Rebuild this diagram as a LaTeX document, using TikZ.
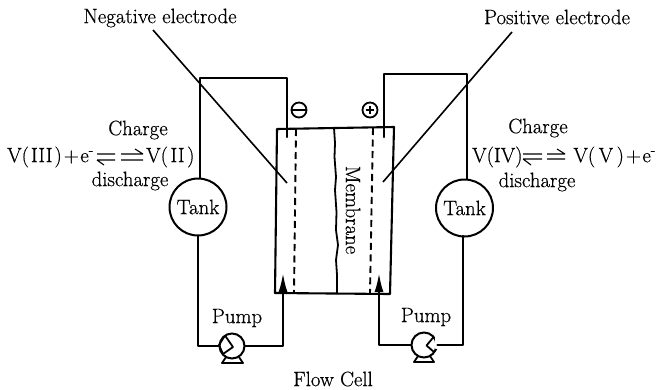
\documentclass[tikz,border=0pt]{standalone}
\usepackage{fontspec}
\setmainfont{Latin Modern Roman}[FakeBold=0.5]
\usetikzlibrary{arrows.meta}
\tikzset{
  pipe/.style={line width=2.2pt,line cap=round,line join=round},
  leader/.style={line width=1.6pt},
  cellwall/.style={line width=2.1pt,line join=round},
  electrode/.style={line width=1.9pt,dash pattern=on 7pt off 4.5pt},
  tankbox/.style={draw,circle,line width=2pt,minimum size=57pt,inner sep=0pt,font=\fontsize{20.8}{24}\selectfont},
  pumpbox/.style={draw,circle,line width=2pt,minimum size=25pt,inner sep=0pt},
  lab/.style={inner sep=0pt,font=\fontsize{20.8}{24}\selectfont},
  sign/.style={draw,circle,line width=1.8pt,minimum size=15pt,inner sep=0pt},
  flowtip/.style={-{Latex[length=19pt,width=9pt]}},
  eq/.style={line width=1.1pt},
}
\begin{document}
\begin{tikzpicture}[x=1pt,y=-1pt]
\useasboundingbox (0,0) rectangle (658,389);
% labels
\node[lab] (neg) at (160,18) {Negative electrode};
\node[lab] (pos) at (557,17) {Positive electrode};
\node[lab] (chL) at (138,130) {Charge};
\node[lab] (diL) at (130,181) {discharge};
\node[lab] (chR) at (538,128) {Charge};
\node[lab] (diR) at (537,182) {discharge};
\node[lab,anchor=west] (eqLa) at (7,157) {V(\kern2ptIII\kern2pt)\kern2pt+\kern1.5pte\textsuperscript{-}};
\node[lab,anchor=west] (eqLb) at (146,157) {V(\kern2.5ptII\kern2.5pt)};
\node[lab,anchor=west] (eqRa) at (472,157) {V(IV)};
\node[lab,anchor=east] (eqRb) at (656,157) {V(\kern3.5ptV\kern3.5pt)\kern2pt+\kern1.5pte\textsuperscript{-}};
\node[lab] (pumpLt) at (237,318) {Pump};
\node[lab] (pumpRt) at (426,317) {Pump};
\node[lab] (flow) at (333,379) {Flow Cell};
\node[lab,rotate=-90] (memb) at (353,210) {Membrane};
% equilibrium arrows
\draw[eq] (97,154)--(115,154) (97,160)--(115,160) (97,160)--(104,165);
\draw[eq] (121,154)--(143,154) (121,160)--(143,160) (143,154)--(135,149);
\draw[eq] (523,154)--(542,154) (523,159)--(542,159) (523,159)--(531,165);
\draw[eq] (547,154)--(565,154) (547,159)--(565,159) (565,154)--(557,149);
% cell
\coordinate (ctl) at (277,129);
\coordinate (ctr) at (394,127);
\coordinate (cbr) at (390,294);
\coordinate (cbl) at (275,293);
\draw[cellwall] (ctl)--(ctr)--(cbr)--(cbl)--cycle;
\draw[electrode] (296,129)--(294,293);
\draw[electrode] (373,128)--(370,293);
\draw[line width=1.8pt,line join=round] (334,128) -- (335,143) -- (334.5,157) -- (336,177) -- (335,190) -- (336.5,212) -- (336,230) -- (338,245) -- (336,260) -- (337,275) -- (337,294);
% tanks and pumps
\node[tankbox] (tankL) at (198,207) {Tank};
\node[tankbox] (tankR) at (464.5,208) {Tank};
\node[pumpbox] (pumpL) at (232,346) {};
\node[pumpbox] (pumpR) at (424,345) {};
% pump details
\draw[line width=1.8pt,line join=round] (225,335.5)--(233,347)--(223,354);
\draw[line width=1.8pt,line join=round] (225,335.5) -- (219,345) -- (223,354);
\draw[draw=none,fill=white] (434.5,338)--(440,338)--(440,351)--(434.5,351)--cycle;
\draw[line width=1.8pt,line join=round] (434,336.5)--(426.5,345.5)--(434,352)--(436.5,349);
\draw[line width=1.8pt,line join=round] (226,357)--(222,363)--(243,363)--(239,357);
\draw[line width=1.8pt,line join=round] (418,356)--(414,362)--(434,362)--(430,356);
% pipes
\coordinate (ltop) at (200,78);
\coordinate (lend) at (287,137);
\coordinate (rtop) at (467,74);
\coordinate (rend) at (384,137);
\coordinate (rlow) at (463,236);
\coordinate (lin) at (283,273);
\coordinate (rin) at (379,273);
\coordinate (lcorner) at (287,78);
\coordinate (rcorner) at (384,74);
\draw[pipe] (tankL.north -| ltop) -- (ltop) -- (lcorner) -- (lend);
\draw[pipe] (tankR.north -| rtop) -- (rtop) -- (rcorner) -- (rend);
\draw[pipe] (tankL.south) -- (tankL.south |- pumpL.west) -- (pumpL.west);
\draw[pipe] (rlow) -- (rlow |- pumpR.east) -- (pumpR.east);
\draw[pipe,flowtip] (pumpL.east) -- (lin |- pumpL.east) -- (lin);
\draw[pipe,flowtip] (pumpR.west) -- (rin |- pumpR.west) -- (rin);
% leaders
\coordinate (negend) at (287,183);
\coordinate (posend) at (383,182);
\draw[leader] (153,30) -- (negend);
\draw[leader] (512,32) -- (posend);
% signs
\node[sign] (minus) at (299,110) {};
\node[sign] (plus) at (370,110) {};
\draw[line width=1.8pt] (minus.west) -- (minus.east);
\draw[line width=1.6pt] (366,110)--(374,110) (370,106)--(370,114);
\end{tikzpicture}
\end{document}
